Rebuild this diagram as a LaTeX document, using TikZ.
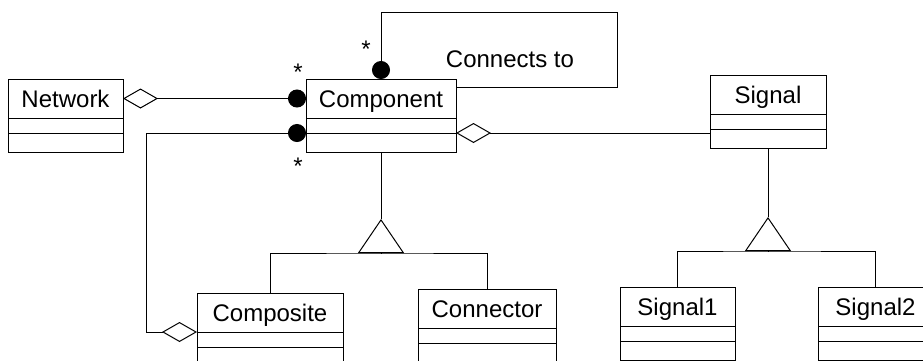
\documentclass[tikz,border=0pt]{standalone}
\usepackage{fontspec}
\setmainfont{Liberation Sans}
\usetikzlibrary{arrows.meta, positioning}

\begin{document}
\begin{tikzpicture}[x=1pt, y=-1pt, line width=1pt,
    font=\fontsize{24}{28}\selectfont,
    class/.style={draw, minimum height=39pt, inner sep=0pt, outer sep=0pt,
        text height=17pt, text depth=0pt},
    attr/.style={draw, minimum height=15pt, inner sep=0pt, outer sep=0pt},
    ops/.style={draw, minimum height=19pt, inner sep=0pt, outer sep=0pt},
    mult/.style={inner sep=0pt, anchor=base},
    lbl/.style={inner sep=0pt, text height=17pt, text depth=0pt},
    agg/.tip={Diamond[open, length=35pt, width=20pt]},
    many/.tip={Circle[length=18pt]},
    isa/.style={-{Triangle[open, length=34pt, width=46pt]}}]
    \path[use as bounding box, clip] (0,0) rectangle (923,360);

    % classes
    \node[class, minimum width=115pt] (net) at (65.5,98.5) {Network};
    \node[class, minimum width=150pt] (comp) at (381,98.5) {Component};
    \node[class, minimum width=116pt] (sig) at (768,94.5) {Signal};
    \node[class, minimum width=146pt] (compo) at (270,312.5) {Composite};
    \node[class, minimum width=138pt] (conn) at (487,308.5) {Connector};
    \node[class, minimum width=115pt] (sig1) at (677.5,306.5) {Signal1};
    \node[class, minimum width=115pt] (sig2) at (875.5,306.5) {Signal2};

    % compartments
    \foreach \c/\w in {net/115, comp/150, sig/116, compo/146, conn/138, sig1/115, sig2/115} {
        \node[attr, minimum width=\w pt] (\c-a) [below=0pt of \c] {};
        \node[ops, minimum width=\w pt] (\c-o) [below=0pt of \c-a] {};
    }

    % aggregations
    \draw[agg-many] (net.east) -- (comp.west);
    \draw[agg-] (comp-a.south east) -- (comp-a.south east -| sig-o.west);
    \draw[many-agg] (comp-a.south west) -- ++(-160,0) |- (compo.south west);

    % self association
    \coordinate (self) at (617,12);
    \draw[many-] (comp.north) |- (self) |- ([yshift=-8pt]comp.north east);
    \node[lbl] (conto) at (510,59) {Connects to};

    % multiplicities
    \node[mult] (m1) at (366,57) {*};
    \node[mult] (m2) at (298,80) {*};
    \node[mult] (m3) at (298,174) {*};

    % generalizations
    \coordinate (gen1) at (comp-o.south |- 0,253);
    \draw[isa] (gen1) -- ++(0,-34) coordinate (tip1);
    \draw (tip1) -- (comp-o.south);
    \draw (compo.north) |- (gen1) -| (conn.north);

    \coordinate (gen2) at (sig-o.south |- 0,251);
    \draw[isa] (gen2) -- ++(0,-34) coordinate (tip2);
    \draw (tip2) -- (sig-o.south);
    \draw (sig1.north) |- (gen2) -| (sig2.north);

\end{tikzpicture}
\end{document}
